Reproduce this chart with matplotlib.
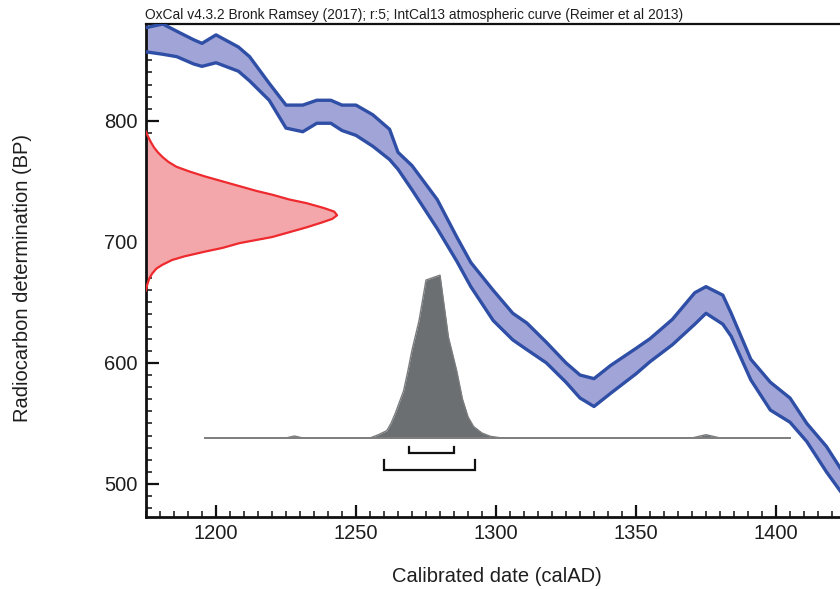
import matplotlib
matplotlib.use("Agg")
import matplotlib.pyplot as plt
import matplotlib.transforms as mtransforms
from matplotlib.ticker import MultipleLocator

plt.rcParams['font.family'] = ['Liberation Sans', 'DejaVu Sans']

# ---------------- data ----------------
title = "OxCal v4.3.2 Bronk Ramsey (2017); r:5; IntCal13 atmospheric curve (Reimer et al 2013)"
x_label = "Calibrated date (calAD)"
y_label = "Radiocarbon determination (BP)"

# IntCal13 calibration band (upper / lower edges, BP)
curve_years = [1175, 1181, 1186, 1192, 1195, 1200, 1208, 1212, 1219, 1225, 1231, 1236,
               1241, 1245, 1250, 1256, 1262, 1265, 1270, 1279, 1286, 1291, 1299, 1306,
               1311, 1318, 1325, 1330, 1335, 1341, 1350, 1355, 1363, 1371, 1375, 1381,
               1384, 1391, 1398, 1405, 1411, 1418, 1423]
curve_upper = [877, 880, 874, 867, 864, 871, 861, 853, 831, 813, 813, 817,
               817, 813, 813, 805, 793, 774, 763, 735, 704, 683, 660, 641,
               633, 617, 600, 590, 587, 598, 612, 620, 636, 658, 663, 656,
               641, 603, 584, 571, 550, 531, 513]
curve_lower = [857, 855, 853, 847, 845, 848, 841, 833, 817, 794, 791, 798,
               798, 792, 788, 779, 768, 760, 743, 711, 684, 663, 635, 619,
               611, 600, 584, 571, 564, 575, 591, 601, 615, 632, 641, 632,
               622, 586, 561, 551, 535, 510, 494]

# Radiocarbon measurement (BP) and relative probability
meas_bp = [791, 788, 785, 782, 778, 774, 770, 766, 762, 758, 754, 750, 746, 742, 739,
           735, 732, 728, 725, 722, 719, 716, 712, 708, 704, 699, 695, 692, 688, 685,
           681, 678, 674, 670, 665, 660]
meas_prob = [0.0, 0.008, 0.017, 0.027, 0.042, 0.062, 0.087, 0.118, 0.16, 0.23, 0.31,
             0.40, 0.49, 0.58, 0.66, 0.75, 0.84, 0.93, 0.985, 1.0, 0.975, 0.92, 0.84,
             0.75, 0.66, 0.49, 0.40, 0.31, 0.2, 0.136, 0.085, 0.055, 0.033, 0.018,
             0.007, 0.0]

# Calibrated date distribution (calAD) and relative probability
cal_years = [1196, 1225, 1228, 1231, 1255, 1258, 1261, 1262.5, 1264, 1265.5, 1267,
             1268.5, 1270, 1272.5, 1275, 1280, 1283, 1286, 1288, 1290, 1292, 1295,
             1298, 1302, 1370, 1375, 1380, 1405]
cal_prob = [0.0, 0.0, 0.012, 0.0, 0.0, 0.02, 0.045, 0.09, 0.15, 0.22, 0.29, 0.41,
            0.54, 0.72, 0.97, 1.0, 0.62, 0.41, 0.24, 0.13, 0.07, 0.03, 0.01, 0.0,
            0.0, 0.02, 0.0, 0.0]
cal_baseline_bp = 538

# Highest posterior density ranges (68.2% and 95.4%)
range_68 = (1269, 1285)
range_95 = (1260, 1292.5)

# ---------------- figure ----------------
W, H = 840, 589
fig = plt.figure(figsize=(W / 100, H / 100), dpi=100)
ax_left, ax_right, ax_top, ax_bottom = 146, 846, 24, 517
ax = fig.add_axes([ax_left / W, 1 - ax_bottom / H,
                   (ax_right - ax_left) / W, (ax_bottom - ax_top) / H])
ax.set_xlim(1175, 1425)
ax.set_ylim(472.7, 880)

text_col = '#1e1e1e'

# calibration band
ax.fill_between(curve_years, curve_lower, curve_upper, color='#a1a4d6', lw=0, zorder=2)
ax.plot(curve_years, curve_upper, color='#2f4ea6', lw=2.4, zorder=3,
        solid_joinstyle='round')
ax.plot(curve_years, curve_lower, color='#2f4ea6', lw=2.4, zorder=3,
        solid_joinstyle='round')

# measurement distribution on the y axis
blend = mtransforms.blended_transform_factory(ax.transAxes, ax.transData)
meas_width = 0.273
mx = [p * meas_width for p in meas_prob]
ax.fill_betweenx(meas_bp, 0, mx, color='#f4a7aa', lw=0, transform=blend, zorder=2)
ax.plot(mx, meas_bp, color='#ee2a2e', lw=1.6, transform=blend, zorder=3,
        solid_joinstyle='round')

# calibrated distribution
cal_height = 134.5
cy = [cal_baseline_bp + p * cal_height for p in cal_prob]
ax.fill_between(cal_years, cal_baseline_bp, cy, color='#6c6f72', lw=0, zorder=4)
ax.plot(cal_years, cy, color='#7a7c7e', lw=1.0, zorder=4)
ax.plot([cal_years[0], cal_years[-1]], [cal_baseline_bp, cal_baseline_bp],
        color='#7f7f7f', lw=1.4, zorder=4)

# range brackets
def bracket(r, ybar, ytop):
    ax.plot([r[0], r[0], r[1], r[1]], [ytop, ybar, ybar, ytop],
            color='#111111', lw=1.6, zorder=5, solid_joinstyle='miter')

bracket(range_68, 525.6, 530.8)
bracket(range_95, 511.6, 519.8)

# axes styling
ax.spines['right'].set_visible(False)
ax.spines['left'].set_linewidth(2.0)
ax.spines['bottom'].set_linewidth(2.0)
ax.spines['top'].set_linewidth(1.6)
for s in ['left', 'bottom', 'top']:
    ax.spines[s].set_color('#111111')

ax.xaxis.set_major_locator(MultipleLocator(50))
ax.xaxis.set_minor_locator(MultipleLocator(5))
ax.yaxis.set_major_locator(MultipleLocator(100))
ax.yaxis.set_minor_locator(MultipleLocator(10))
ax.tick_params(axis='both', which='major', direction='in', length=9, width=1.6,
               labelsize=14.5, colors='#111111', labelcolor=text_col, pad=5)
ax.tick_params(axis='both', which='minor', direction='in', length=4.5, width=1.1,
               colors='#111111')
ax.tick_params(axis='x', which='both', top=False)
ax.tick_params(axis='y', which='both', right=False)
ax.tick_params(axis='y', which='major', pad=6)

fig.text(497 / W, 1 - 577 / H, x_label, ha='center', va='center',
         fontsize=14.5, color=text_col)
fig.text(23 / W, 1 - 278 / H, y_label, ha='center', va='center', rotation=90,
         fontsize=14.5, color=text_col)
fig.text(145 / W, 1 - 22.5 / H, title, ha='left', va='bottom',
         fontsize=9.9, color=text_col)

fig.savefig('out.png', dpi=100)
